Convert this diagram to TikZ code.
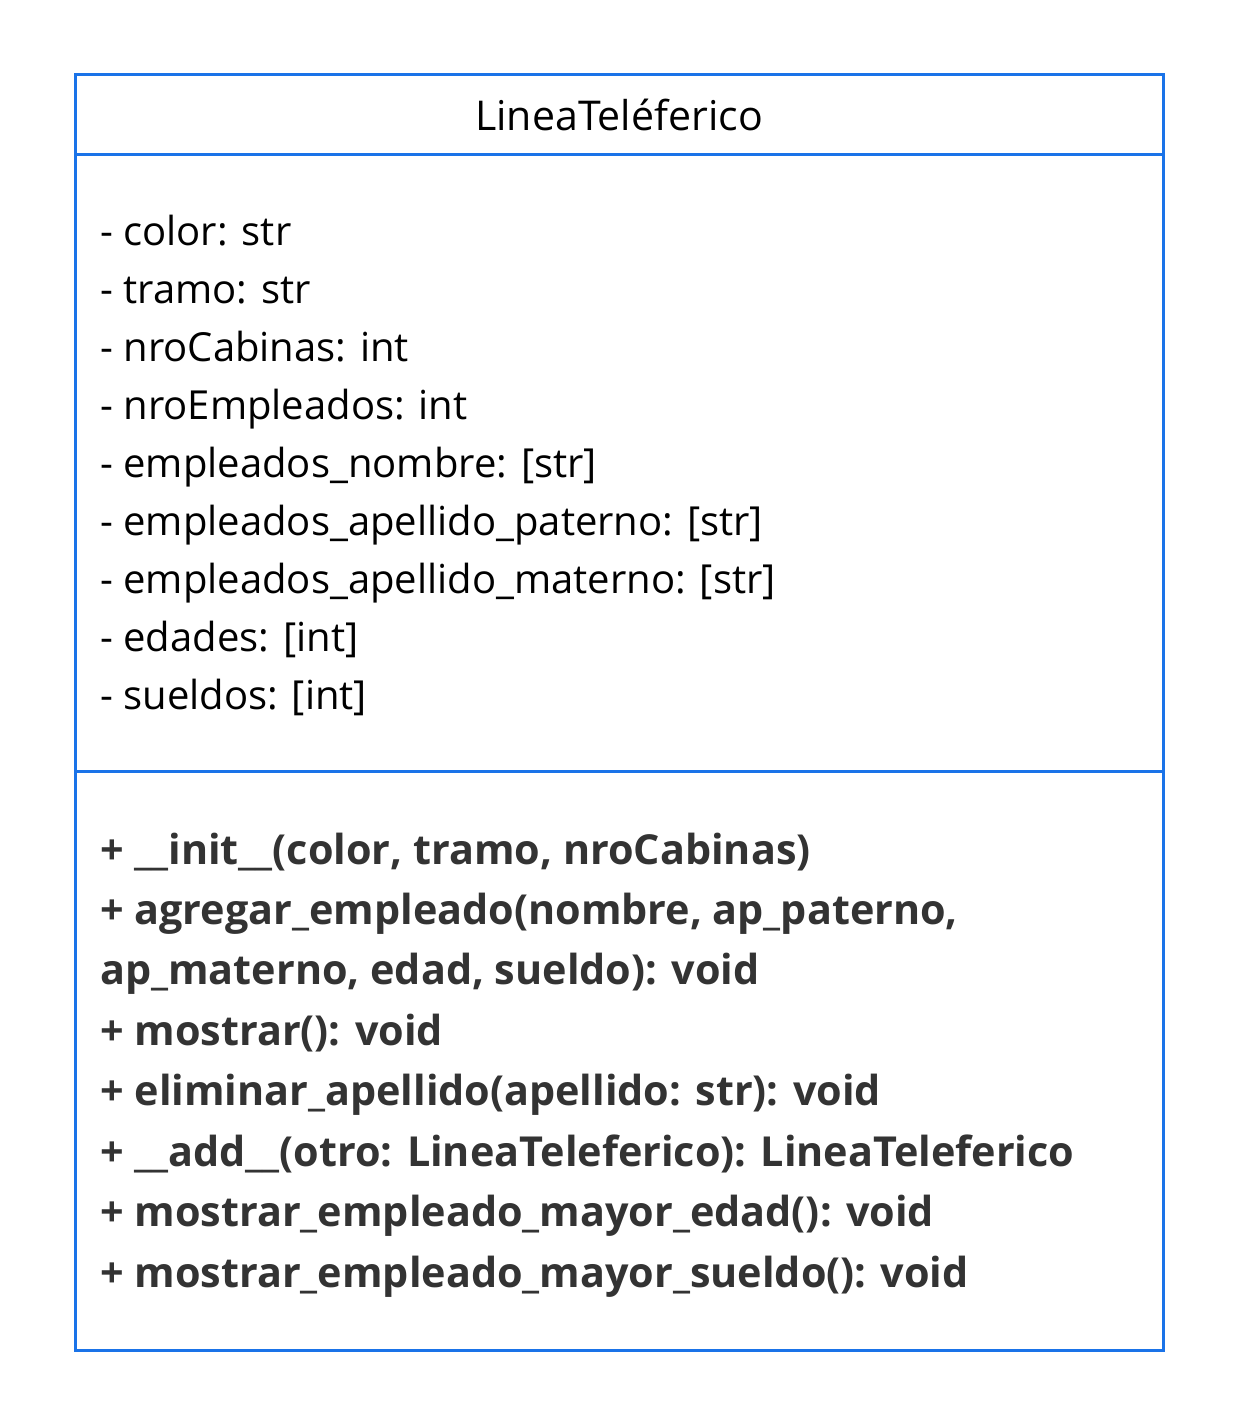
\documentclass[tikz,border=0pt]{standalone}
\usepackage{fontspec}
\setmainfont{Open Sans}
\usetikzlibrary{positioning}
\definecolor{umlblue}{RGB}{26,115,232}
\definecolor{opgray}{RGB}{51,51,51}

\begin{document}
\begin{tikzpicture}[x=0.75pt,y=-0.75pt]
\tikzset{
  classbox/.style={draw=umlblue, line width=2.25pt},
  attr/.style={anchor=base west, inner sep=0pt, font=\fontsize{30}{36}\selectfont},
  op/.style={anchor=base west, inner sep=0pt, text=opgray, font=\fontsize{31}{37}\selectfont\bfseries}
}
\useasboundingbox (0,0) rectangle (1238,1425);

% Class frame and compartments
\coordinate (nw) at (75,74);
\coordinate (se) at (1163,1350);
\draw[classbox] (nw) rectangle (se);
\draw[classbox] (75,154) -- (1163,154);
\draw[classbox] (75,771) -- (1163,771);

% Name
\node[attr, anchor=base, font=\fontsize{30.8}{36}\selectfont] (title) at (619,130) {LineaTeléferico};

% Attributes
\node[attr] (a1) at (100,245) {- color: str};
\node[attr] (a2) at (100,303) {- tramo: str};
\node[attr] (a3) at (100,361) {- nroCabinas: int};
\node[attr] (a4) at (100,419) {- nroEmpleados: int};
\node[attr] (a5) at (100,477) {- empleados\_nombre: [str]};
\node[attr] (a6) at (100,535) {- empleados\_apellido\_paterno: [str]};
\node[attr] (a7) at (100,593) {- empleados\_apellido\_materno: [str]};
\node[attr] (a8) at (100,651) {- edades: [int]};
\node[attr] (a9) at (100,709) {- sueldos: [int]};

% Methods
\node[op] (m1) at (100,864) {+ \_\_init\_\_(color, tramo, nroCabinas)};
\node[op] (m2) at (100,924) {+ agregar\_empleado(nombre, ap\_paterno,};
\node[op] (m3) at (100,984) {ap\_materno, edad, sueldo): void};
\node[op] (m4) at (100,1045) {+ mostrar(): void};
\node[op] (m5) at (100,1105) {+ eliminar\_apellido(apellido: str): void};
\node[op] (m6) at (100,1166) {+ \_\_add\_\_(otro: LineaTeleferico): LineaTeleferico};
\node[op] (m7) at (100,1226) {+ mostrar\_empleado\_mayor\_edad(): void};
\node[op] (m8) at (100,1287) {+ mostrar\_empleado\_mayor\_sueldo(): void};
\end{tikzpicture}
\end{document}
